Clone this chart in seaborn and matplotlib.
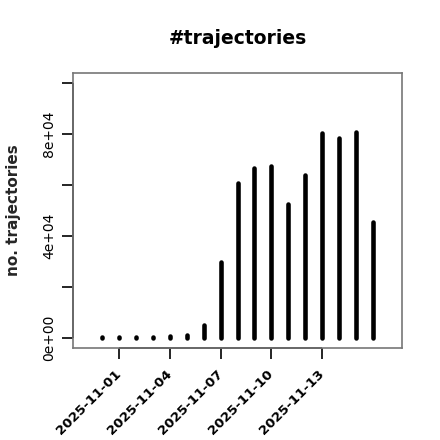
import matplotlib
matplotlib.use("Agg")
import matplotlib.pyplot as plt
import matplotlib.dates as mdates
import seaborn as sns
import pandas as pd
import numpy as np

dates = ["2025-10-31", "2025-11-01", "2025-11-02", "2025-11-03", "2025-11-04",
         "2025-11-05", "2025-11-06", "2025-11-07", "2025-11-08", "2025-11-09",
         "2025-11-10", "2025-11-11", "2025-11-12", "2025-11-13", "2025-11-14",
         "2025-11-15", "2025-11-16"]
counts = [200, 250, 250, 200, 600, 1200, 4900, 29800, 60900, 66800,
          67300, 52600, 64000, 80600, 78600, 81000, 45500]
x_tick_labels = ["2025-11-01", "2025-11-04", "2025-11-07", "2025-11-10", "2025-11-13"]
y_ticks = [0, 20000, 40000, 60000, 80000, 100000]
y_tick_labels = ["0e+00", "", "4e+04", "", "8e+04", ""]

df = pd.DataFrame({"date": pd.to_datetime(dates), "n": counts})

sns.set_style("white")
plt.rcParams["font.family"] = ["DejaVu Sans"]
plt.rcParams["text.color"] = "black"
plt.rcParams["xtick.color"] = "black"
plt.rcParams["ytick.color"] = "black"

fig = plt.figure(figsize=(4.4, 4.4), dpi=100)
ax = fig.add_axes([73/440, 1 - 348/440, (402-73)/440, (348-73)/440])

xd = mdates.date2num(df["date"])
vl = ax.vlines(xd, 0, df["n"], color="black", linewidth=3.3)
vl.set_capstyle("round")

x0 = mdates.date2num(pd.Timestamp("2025-10-30"))
x1 = mdates.date2num(pd.Timestamp("2025-11-17"))
pad = (x1 - x0) * 0.04
ax.set_xlim(x0 - pad, x1 + pad)
ypad = 100000 * 0.04
ax.set_ylim(-ypad, 100000 + ypad)

for s in ax.spines.values():
    s.set_visible(True)
    s.set_color("#777777")
    s.set_linewidth(1.2)

xt = mdates.date2num(pd.to_datetime(x_tick_labels))
ax.set_xticks(xt)
ax.set_xticklabels(x_tick_labels)
ax.set_yticks(y_ticks)
ax.set_yticklabels(y_tick_labels)
ax.tick_params(axis="both", which="both", direction="out", length=8, width=1.2,
               color="black", left=True, bottom=True, pad=4)
ax.tick_params(axis="x", labelsize=9.6, pad=9)
ax.tick_params(axis="y", labelsize=10)
for lab in ax.get_xticklabels():
    lab.set_fontweight("bold")
    lab.set_rotation(45)
    lab.set_ha("right")
    lab.set_va("center")
    lab.set_rotation_mode("anchor")
for lab in ax.get_yticklabels():
    lab.set_rotation(90)
    lab.set_va("center")

ax.plot([0, 0], [0, 100000], transform=ax.get_yaxis_transform(), color="black",
        lw=1.2, clip_on=False, solid_capstyle="butt")
ax.plot([xt[0], xt[-1]], [0, 0], transform=ax.get_xaxis_transform(), color="black",
        lw=1.2, clip_on=False, solid_capstyle="butt")

ax.set_xlabel("")
ax.set_ylabel("no. trajectories", fontsize=11, fontweight="bold")
ax.yaxis.set_label_coords(-0.158, 0.5)
ax.set_title("#trajectories", fontsize=13.5, fontweight="bold", pad=21)

fig.savefig("out.png", dpi=100, facecolor="white")
